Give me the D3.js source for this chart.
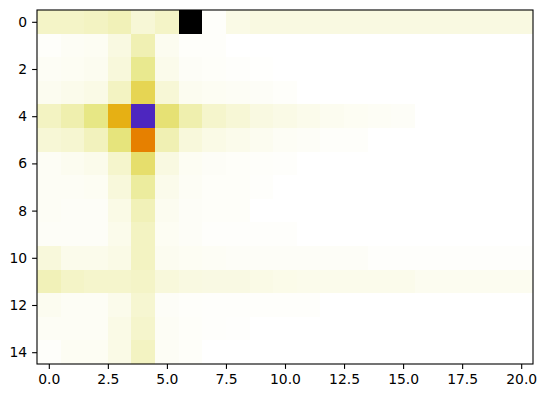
<!DOCTYPE html>
<html>
<head>
<meta charset="utf-8">
<style>
  body { margin: 0; background: #fff; }
  svg { font-family: "DejaVu Sans", sans-serif; }
  .tick text { font-size: 13.9px; fill: #000; font-family: "DejaVu Sans"; }
</style>
</head>
<body>
<div id="chart"></div>
<script src="https://d3js.org/d3.v7.min.js"></script>
<script>
// normalized intensity per cell (0 = white, 1 = black), rows 0..14, cols 0..20
var row0  = [0.055,0.055,0.06,0.07,0.04,0.055,1,0.005,0.025,0.03,0.03,0.03,0.03,0.03,0.03,0.03,0.03,0.03,0.03,0.03,0.03];
var row1  = [0.005,0.01,0.012,0.03,0.075,0.015,0.005,0.005,0,0,0,0,0,0,0,0,0,0,0,0,0];
var row2  = [0.01,0.012,0.015,0.035,0.11,0.02,0.008,0.006,0.004,0.002,0,0,0,0,0,0,0,0,0,0,0];
var row3  = [0.015,0.02,0.025,0.06,0.18,0.04,0.015,0.012,0.01,0.008,0.005,0,0,0,0,0,0,0,0,0,0];
var row4  = [0.06,0.08,0.12,0.28,0.75,0.14,0.08,0.05,0.04,0.03,0.025,0.02,0.015,0.012,0.01,0.008,0,0,0,0,0];
var row5  = [0.04,0.045,0.065,0.13,0.375,0.075,0.035,0.025,0.02,0.015,0.01,0.008,0.005,0.005,0,0,0,0,0,0,0];
var row6  = [0.01,0.015,0.02,0.05,0.15,0.03,0.012,0.008,0.006,0.005,0.004,0,0,0,0,0,0,0,0,0,0];
var row7  = [0.01,0.01,0.012,0.035,0.095,0.02,0.01,0.006,0.006,0.004,0,0,0,0,0,0,0,0,0,0,0];
var row8  = [0.01,0.008,0.008,0.025,0.07,0.015,0.008,0.006,0.006,0,0,0,0,0,0,0,0,0,0,0,0];
var row9  = [0.008,0.008,0.008,0.02,0.06,0.012,0.008,0.004,0.004,0.004,0.004,0,0,0,0,0,0,0,0,0,0];
var row10 = [0.035,0.02,0.02,0.025,0.06,0.015,0.012,0.01,0.008,0.008,0.008,0.008,0.008,0.008,0.004,0.004,0.004,0.004,0.004,0.004,0.004];
var row11 = [0.07,0.055,0.05,0.05,0.055,0.035,0.03,0.028,0.028,0.025,0.022,0.02,0.02,0.02,0.02,0.02,0.015,0.015,0.015,0.015,0.015];
var row12 = [0.015,0.01,0.01,0.02,0.045,0.008,0.005,0.004,0.004,0.004,0.004,0.004,0,0,0,0,0,0,0,0,0];
var row13 = [0.01,0.01,0.01,0.025,0.05,0.01,0.006,0.004,0.003,0,0,0,0,0,0,0,0,0,0,0,0];
var row14 = [0.005,0.012,0.012,0.025,0.06,0.01,0.006,0,0,0,0,0,0,0,0,0,0,0,0,0,0];
var grid = [row0,row1,row2,row3,row4,row5,row6,row7,row8,row9,row10,row11,row12,row13,row14];

var xTicks = [0, 2.5, 5, 7.5, 10, 12.5, 15, 17.5, 20];
var yTicks = [0, 2, 4, 6, 8, 10, 12, 14];

// CMRmap_r colormap stops
var cmapStops = [0, 0.125, 0.25, 0.375, 0.5, 0.625, 0.75, 0.875, 1];
var cmapColors = [
  [1.00,1.00,1.00],[0.90,0.90,0.50],[0.90,0.75,0.10],[0.90,0.50,0.00],
  [1.00,0.25,0.15],[0.60,0.20,0.50],[0.30,0.15,0.75],[0.15,0.15,0.50],[0,0,0]
].map(function(c){ return d3.rgb(c[0]*255, c[1]*255, c[2]*255).toString(); });

var color = d3.scaleLinear().domain(cmapStops).range(cmapColors)
  .interpolate(d3.interpolateRgb).clamp(true);

var W = 546, H = 398;
var margin = {left: 37, top: 10, right: 13, bottom: 34};
var w = W - margin.left - margin.right;
var h = H - margin.top - margin.bottom;

var nRows = grid.length, nCols = grid[0].length;

var x = d3.scaleLinear().domain([-0.5, nCols - 0.5]).range([0, w]);
var y = d3.scaleLinear().domain([-0.5, nRows - 0.5]).range([0, h]);

var svg = d3.select("#chart").append("svg")
  .attr("width", W).attr("height", H);

var g = svg.append("g")
  .attr("transform", "translate(" + margin.left + "," + margin.top + ")");

var cells = [];
grid.forEach(function(row, r){
  row.forEach(function(v, c){ cells.push({r: r, c: c, v: v}); });
});

g.selectAll("rect.cell").data(cells).enter().append("rect")
  .attr("class", "cell")
  .attr("x", function(d){ return x(d.c - 0.5); })
  .attr("y", function(d){ return y(d.r - 0.5); })
  .attr("width", x(1) - x(0) + 0.4)
  .attr("height", y(1) - y(0) + 0.4)
  .attr("fill", function(d){ return color(d.v); })
  .attr("shape-rendering", "crispEdges");

var xAxis = d3.axisBottom(x).tickValues(xTicks)
  .tickFormat(d3.format(".1f")).tickSizeOuter(0).tickSize(4.9).tickPadding(4.9);
var yAxis = d3.axisLeft(y).tickValues(yTicks)
  .tickFormat(d3.format("d")).tickSizeOuter(0).tickSize(4.9).tickPadding(4.9);

var gx = g.append("g").attr("transform", "translate(0," + h + ")").call(xAxis);
var gy = g.append("g").call(yAxis);
[gx, gy].forEach(function(a){
  a.attr("font-family", null).attr("font-size", null);
  a.select(".domain").remove();
  a.selectAll(".tick line").attr("stroke", "#000").attr("stroke-width", 1.1);
});

g.append("rect")
  .attr("x", 0).attr("y", 0).attr("width", w).attr("height", h)
  .attr("fill", "none").attr("stroke", "#000").attr("stroke-width", 1.1);
</script>
</body>
</html>
